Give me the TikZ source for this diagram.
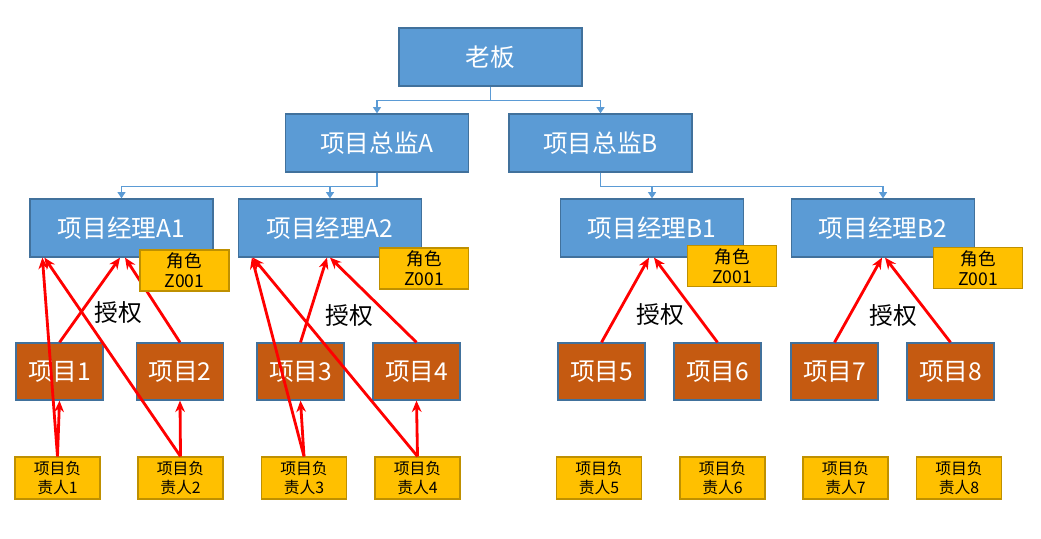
\documentclass[tikz,border=0pt]{standalone}
\usepackage{fontspec}
\setmainfont{Noto Sans CJK SC}
\usepackage{tikz}
\usetikzlibrary{arrows.meta, calc}

\definecolor{boxblue}{HTML}{5B9BD5}
\definecolor{boxedge}{HTML}{41719C}
\definecolor{prjorange}{HTML}{C55A11}
\definecolor{roleyellow}{HTML}{FFC000}
\definecolor{roleedge}{HTML}{BF9000}

\begin{document}
\begin{tikzpicture}[
                mgrbox/.style={draw=boxedge, line width=0.7pt, fill=boxblue, text=white, rectangle, inner sep=0pt, minimum width=3.66cm, minimum height=1.16cm, font=\fontsize{14}{16}\selectfont},
                prjbox/.style={draw=boxedge, line width=0.7pt, fill=prjorange, text=white, rectangle, inner sep=0pt, minimum width=1.74cm, minimum height=1.14cm, font=\fontsize{14}{16}\selectfont},
                rolebox/.style={draw=roleedge, line width=0.7pt, fill=roleyellow, rectangle, inner sep=0pt, minimum width=1.78cm, minimum height=0.82cm, align=center, font=\fontsize{10}{11.5}\selectfont},
                ownbox/.style={draw=roleedge, line width=0.7pt, fill=roleyellow, rectangle, inner sep=0pt, minimum width=1.7cm, minimum height=0.84cm, align=center, font=\fontsize{9}{11.3}\selectfont},
                authlabel/.style={font=\fontsize{13.5}{15}\selectfont},
                tree/.style={draw=boxblue, line width=0.6pt, -{Triangle[length=3.5pt, width=4.5pt]}},
                grant/.style={draw=red, line width=1.6pt, -{Stealth[length=6.5pt, width=5.5pt]}}
            ]
            \useasboundingbox (0,0) rectangle (20.82,-10.78);

            % Knoten
            \node[mgrbox] (boss) at (9.81,-1.14) {老板};
            \node[mgrbox] (dirA) at (7.54,-2.86) {项目总监A};
            \node[mgrbox] (dirB) at (12.01,-2.86) {项目总监B};
            \node[mgrbox] (mgrA1) at (2.43,-4.56) {项目经理A1};
            \node[mgrbox] (mgrA2) at (6.60,-4.56) {项目经理A2};
            \node[mgrbox] (mgrB1) at (13.04,-4.56) {项目经理B1};
            \node[mgrbox] (mgrB2) at (17.66,-4.56) {项目经理B2};

            \node[prjbox] (prj1) at (1.19,-7.43) {项目1};
            \node[prjbox] (prj2) at (3.60,-7.43) {项目2};
            \node[prjbox] (prj3) at (6.01,-7.43) {项目3};
            \node[prjbox] (prj4) at (8.33,-7.43) {项目4};
            \node[prjbox] (prj5) at (12.03,-7.43) {项目5};
            \node[prjbox] (prj6) at (14.35,-7.43) {项目6};
            \node[prjbox] (prj7) at (16.69,-7.43) {项目7};
            \node[prjbox] (prj8) at (19.01,-7.43) {项目8};

            \node[ownbox] (own1) at (1.15,-9.56) {项目负\\责人1};
            \node[ownbox] (own2) at (3.61,-9.56) {项目负\\责人2};
            \node[ownbox] (own3) at (6.08,-9.56) {项目负\\责人3};
            \node[ownbox] (own4) at (8.35,-9.56) {项目负\\责人4};
            \node[ownbox] (own5) at (11.98,-9.56) {项目负\\责人5};
            \node[ownbox] (own6) at (14.45,-9.56) {项目负\\责人6};
            \node[ownbox] (own7) at (16.91,-9.56) {项目负\\责人7};
            \node[ownbox] (own8) at (19.18,-9.56) {项目负\\责人8};

            \node[authlabel] (authA1) at (2.37,-6.26) {授权};
            \node[authlabel] (authA2) at (6.99,-6.31) {授权};
            \node[authlabel] (authB1) at (13.21,-6.29) {授权};
            \node[authlabel] (authB2) at (17.87,-6.31) {授权};

            % Organigramm
            \draw[tree] (boss.south) -- ++(0,-0.28) -| (dirA.north);
            \draw[tree] (boss.south) -- ++(0,-0.28) -| (dirB.north);
            \draw[tree] (dirA.south) -- ++(0,-0.28) -| (mgrA1.north);
            \draw[tree] (dirA.south) -- ++(0,-0.28) -| (mgrA2.north);
            \draw[tree] (dirB.south) -- ++(0,-0.28) -| (mgrB1.north);
            \draw[tree] (dirB.south) -- ++(0,-0.28) -| (mgrB2.north);

            % Berechtigungen
            \draw[grant] (prj1.north) -- ([xshift=-0.03cm]mgrA1.south);
            \draw[grant] (prj2.north) -- ([xshift=0.07cm]mgrA1.south);
            \draw[grant] (own1.north) -- ([xshift=0.26cm]mgrA1.south west);
            \draw[grant] (own2.north) -- ([xshift=0.30cm]mgrA1.south west);
            \draw[grant] (own1.north) -- (prj1.south);
            \draw[grant] (own2.north) -- (prj2.south);

            \draw[grant] (prj3.north) -- ([xshift=-0.06cm]mgrA2.south);
            \draw[grant] (prj4.north) -- (mgrA2.south);
            \draw[grant] (own3.north) -- ([xshift=0.28cm]mgrA2.south west);
            \draw[grant] (own4.north) -- ([xshift=0.30cm]mgrA2.south west);
            \draw[grant] (own3.north) -- (prj3.south);
            \draw[grant] (own4.north) -- (prj4.south);

            \draw[grant] (prj5.north) -- ([xshift=-0.06cm]mgrB1.south);
            \draw[grant] (prj6.north) -- ([xshift=0.04cm]mgrB1.south);
            \draw[grant] (prj7.north) -- ([xshift=-0.02cm]mgrB2.south);
            \draw[grant] (prj8.north) -- ([xshift=0.04cm]mgrB2.south);

            % Rollen
            \node[rolebox] (roleA1) at (3.69,-5.41) {角色\\Z001};
            \node[rolebox] (roleA2) at (8.48,-5.37) {角色\\Z001};
            \node[rolebox] (roleB1) at (14.64,-5.32) {角色\\Z001};
            \node[rolebox] (roleB2) at (19.56,-5.36) {角色\\Z001};

        \end{tikzpicture}
\end{document}
